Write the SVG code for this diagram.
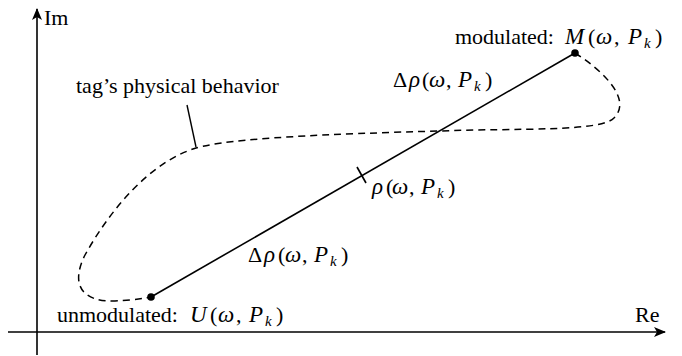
<svg xmlns="http://www.w3.org/2000/svg" width="682" height="356" viewBox="0 0 682 356">
<style>
text{font-family:"Liberation Serif","Times New Roman",Times,serif;font-size:22px;fill:#000}
.i{font-style:italic;font-size:23px}
.s{font-size:15px;font-style:italic}
.ax{stroke:#000;stroke-width:1.6;fill:none}
</style>
<defs>
<marker id="ah" markerWidth="12" markerHeight="10" refX="11" refY="5" orient="auto" markerUnits="userSpaceOnUse">
<path d="M0,0 L12,5 L0,10 L3,5 Z" fill="#000"/>
</marker>
</defs>
<g id="axes">
<line class="ax" x1="37" y1="355" x2="37" y2="9" marker-end="url(#ah)"/>
<line class="ax" x1="8" y1="332" x2="665" y2="332" marker-end="url(#ah)"/>
<text x="44" y="25">Im</text>
<text x="635" y="322">Re</text>
</g>
<g id="connectors">
<path d="M575,53 C605,72 632,100 614,118 C600,132 520,128 440,131 C330,134 230,138 196,148 C150,162 110,210 85,255 C70,285 82,302 115,301 C135,300 145,298 151,297" fill="none" stroke="#000" stroke-width="1.5" stroke-dasharray="7,5"/>
<line x1="151" y1="297" x2="575" y2="53" stroke="#000" stroke-width="1.6"/>
<line x1="357" y1="167" x2="366" y2="183" stroke="#000" stroke-width="1.6"/>
<line x1="187" y1="105" x2="196" y2="147" stroke="#000" stroke-width="1.4"/>
</g>
<g id="M">
<circle cx="575" cy="53" r="3.8" fill="#000"/>
<text y="44"><tspan x="455">modulated:</tspan><tspan class="i" x="565">M</tspan><tspan x="588">(</tspan><tspan class="i" x="596">ω</tspan><tspan x="614">,</tspan><tspan class="i" x="628">P</tspan><tspan class="s" x="644" y="48">k</tspan><tspan x="655" y="44">)</tspan></text>
</g>
<g id="U">
<circle cx="151" cy="297" r="3.8" fill="#000"/>
<text y="322"><tspan x="57">unmodulated:</tspan><tspan class="i" x="190">U</tspan><tspan x="210">(</tspan><tspan class="i" x="218">ω</tspan><tspan x="236">,</tspan><tspan class="i" x="249">P</tspan><tspan class="s" x="265" y="326">k</tspan><tspan x="276" y="322">)</tspan></text>
</g>
<g id="labels">
<text x="76" y="93">tag’s physical behavior</text>
<text y="87"><tspan x="393">Δ</tspan><tspan class="i" x="409">ρ</tspan><tspan x="422">(</tspan><tspan class="i" x="429">ω</tspan><tspan x="446">,</tspan><tspan class="i" x="458">P</tspan><tspan class="s" x="474" y="91">k</tspan><tspan x="485" y="87">)</tspan></text>
<text y="194"><tspan class="i" x="372">ρ</tspan><tspan x="386">(</tspan><tspan class="i" x="392">ω</tspan><tspan x="409">,</tspan><tspan class="i" x="421">P</tspan><tspan class="s" x="437" y="198">k</tspan><tspan x="448" y="194">)</tspan></text>
<text y="262"><tspan x="248">Δ</tspan><tspan class="i" x="264">ρ</tspan><tspan x="278">(</tspan><tspan class="i" x="285">ω</tspan><tspan x="302">,</tspan><tspan class="i" x="314">P</tspan><tspan class="s" x="330" y="266">k</tspan><tspan x="341" y="262">)</tspan></text>
</g>
</svg>
